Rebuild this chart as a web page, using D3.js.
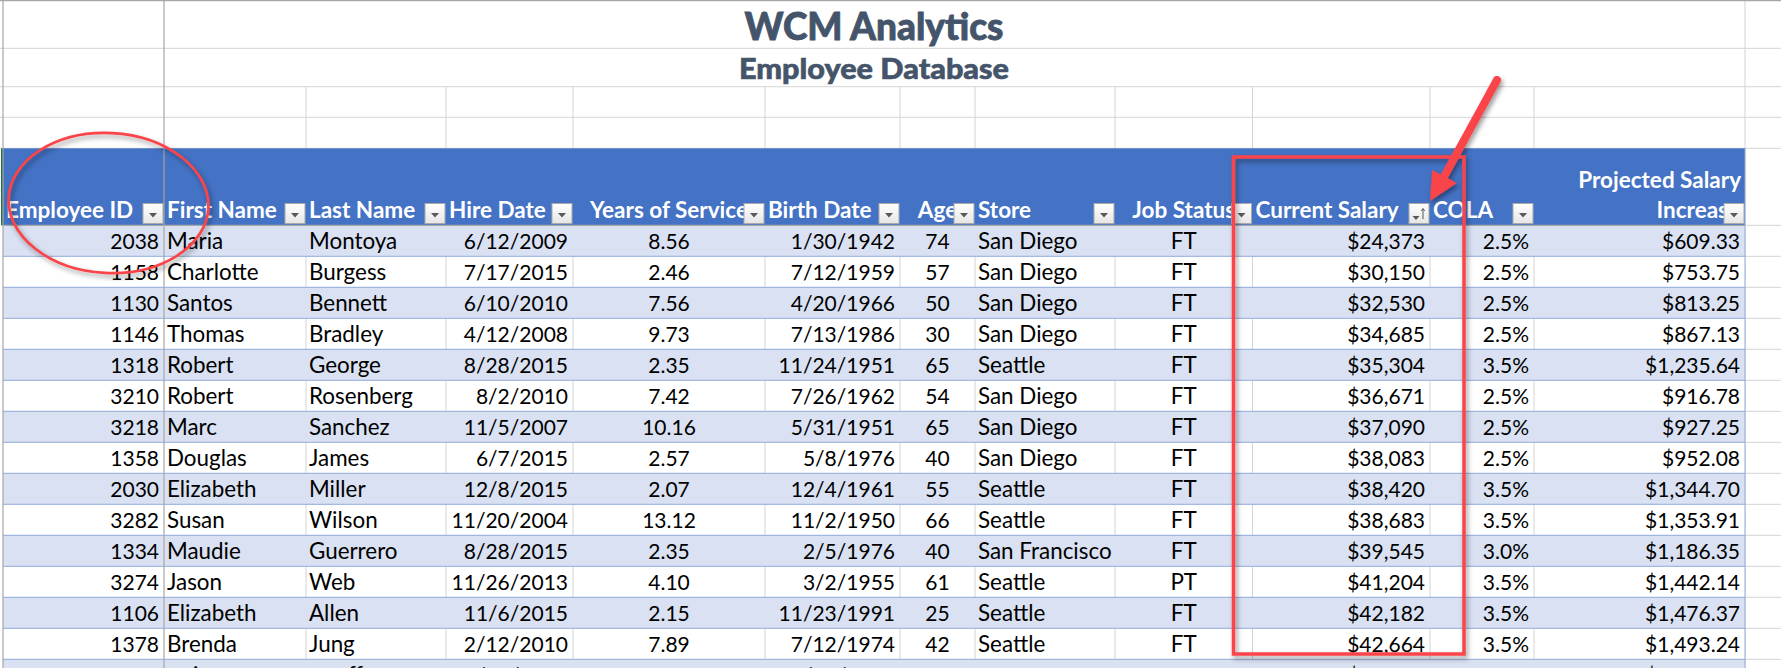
<!DOCTYPE html>
<html>
<head>
    <meta charset="utf-8">
    <title>WCM Analytics - Employee Database</title>
    <script src="https://d3js.org/d3.v7.min.js"></script>
    <style>
        html, body { margin: 0; padding: 0; background: #fff; overflow: hidden; }
        svg { display: block; }
    </style>
</head>

<body>
<div id="chart"></div>
<script type="text/javascript">

    let titleText = "WCM Analytics";
    let subtitleText = "Employee Database";
    let columnKeys = ["id", "first", "last", "hire", "years", "birth", "age", "store", "job", "salary", "cola", "raise"];

    let employeeIds = [2038, 1158, 1130, 1146, 1318, 3210, 3218, 1358, 2030, 3282, 1334, 3274, 1106, 1378];
    let firstNames = ["Maria", "Charlotte", "Santos", "Thomas", "Robert", "Robert", "Marc", "Douglas", "Elizabeth", "Susan", "Maudie", "Jason", "Elizabeth", "Brenda"];
    let lastNames = ["Montoya", "Burgess", "Bennett", "Bradley", "George", "Rosenberg", "Sanchez", "James", "Miller", "Wilson", "Guerrero", "Web", "Allen", "Jung"];
    let hireDates = ["6/12/2009", "7/17/2015", "6/10/2010", "4/12/2008", "8/28/2015", "8/2/2010", "11/5/2007", "6/7/2015", "12/8/2015", "11/20/2004", "8/28/2015", "11/26/2013", "11/6/2015", "2/12/2010"];
    let yearsOfService = [8.56, 2.46, 7.56, 9.73, 2.35, 7.42, 10.16, 2.57, 2.07, 13.12, 2.35, 4.10, 2.15, 7.89];
    let birthDates = ["1/30/1942", "7/12/1959", "4/20/1966", "7/13/1986", "11/24/1951", "7/26/1962", "5/31/1951", "5/8/1976", "12/4/1961", "11/2/1950", "2/5/1976", "3/2/1955", "11/23/1991", "7/12/1974"];
    let ages = [74, 57, 50, 30, 65, 54, 65, 40, 55, 66, 40, 61, 25, 42];
    let stores = ["San Diego", "San Diego", "San Diego", "San Diego", "Seattle", "San Diego", "San Diego", "San Diego", "Seattle", "Seattle", "San Francisco", "Seattle", "Seattle", "Seattle"];
    let jobStatus = ["FT", "FT", "FT", "FT", "FT", "FT", "FT", "FT", "FT", "FT", "FT", "PT", "FT", "FT"];
    let salaries = [24373, 30150, 32530, 34685, 35304, 36671, 37090, 38083, 38420, 38683, 39545, 41204, 42182, 42664];
    let colaRates = [0.025, 0.025, 0.025, 0.025, 0.035, 0.025, 0.025, 0.025, 0.035, 0.035, 0.03, 0.035, 0.035, 0.035];
    let raises = [609.33, 753.75, 813.25, 867.13, 1235.64, 916.78, 927.25, 952.08, 1344.70, 1353.91, 1186.35, 1442.14, 1476.37, 1493.24];

    let headerLabels = ["Employee ID", "First Name", "Last Name", "Hire Date", "Years of Service", "Birth Date", "Age", "Store", "Job Status", "Current Salary", "COLA", "Increase"];
    let headerExtra = "Projected Salary";

    // Ultima linha cortada: so o topo de alguns caracteres aparece
    let fs = "\u2007";
    let cutRow = {
        first: fs + fs + "i",
        last: fs + fs + fs + "ff",
        hire: fs + fs + "/" + fs + fs + "/" + fs + fs + fs + fs,
        birth: fs + fs + "/" + fs + fs + "/" + fs + fs + fs + fs,
        salary: "$" + fs + fs + "," + fs + fs + fs,
        cola: "%",
        raise: "$" + fs + "," + fs + fs + fs + "." + fs + fs
    };

    // Layout
    let w = 1781, h = 668;
    let colEdges = [3, 164, 306, 446, 573, 765, 900, 975, 1115, 1252.5, 1430, 1534, 1745];
    let headTop = 148.3, headBottom = 225.3, rowH = 31;
    let gridYs = [48.3, 86.7, 117.3, 148.3];

    let fmtSalary = d3.format("$,"), fmtCola = d3.format(".1%"), fmtRaise = d3.format("$,.2f"), fmtYears = d3.format(".2f");

    let rows = employeeIds.map(function(d, i) {
        return {
            id: d, first: firstNames[i], last: lastNames[i], hire: hireDates[i],
            years: fmtYears(yearsOfService[i]), birth: birthDates[i], age: ages[i],
            store: stores[i], job: jobStatus[i], salary: fmtSalary(salaries[i]),
            cola: fmtCola(colaRates[i]), raise: fmtRaise(raises[i])
        };
    });
    rows.push(cutRow);

    // Escalas
    let yScale = d3.scaleBand()
                   .domain(d3.range(rows.length))
                   .range([headBottom, headBottom + rows.length * rowH]);

    let colLeft = d3.scaleOrdinal().domain(columnKeys).range(colEdges.slice(0, -1));
    let colRight = d3.scaleOrdinal().domain(columnKeys).range(colEdges.slice(1));

    // Alinhamento de cada coluna
    let bodyAlign = {id: "end", first: "start", last: "start", hire: "end", years: "middle", birth: "end", age: "middle", store: "start", job: "middle", salary: "end", cola: "end", raise: "end"};
    let headAlign = {id: "start", first: "start", last: "start", hire: "start", years: "middle", birth: "start", age: "middle", store: "start", job: "middle", salary: "start", cola: "start", raise: "end"};

    // Colunas de letras saem um pouco maiores que as de numeros
    let textCols = ["first", "last", "store", "job"];

    function textX(key, anchor) {
        if (anchor === "start") return colLeft(key) + 3;
        if (anchor === "end") return colRight(key) - 5;
        return (colLeft(key) + colRight(key)) / 2;
    }

    let svg = d3.select("#chart")
            .append("svg")
                .attr("width", w)
                .attr("height", h);

    let defs = svg.append("defs");

    let shadow = defs.append("filter").attr("id", "shadow")
        .attr("x", "-10%").attr("y", "-10%").attr("width", "125%").attr("height", "125%");
    shadow.append("feDropShadow")
        .attr("dx", 2).attr("dy", 3).attr("stdDeviation", 2.5)
        .attr("flood-color", "#000").attr("flood-opacity", 0.4);

    let btnGrad = defs.append("linearGradient").attr("id", "btnGrad")
        .attr("x1", 0).attr("y1", 0).attr("x2", 0).attr("y2", 1);
    btnGrad.append("stop").attr("offset", "0%").attr("stop-color", "#ffffff");
    btnGrad.append("stop").attr("offset", "100%").attr("stop-color", "#e6e6e6");

    // Grade acima da tabela
    svg.append("rect").attr("width", w).attr("height", h).attr("fill", "#fff");

    svg.selectAll(".gridH")
        .data(gridYs)
        .enter()
        .append("line")
        .attr("x1", 0).attr("x2", w)
        .attr("y1", function(d){ return d; }).attr("y2", function(d){ return d; })
        .attr("stroke", "#d4d4d4").attr("stroke-width", 1);

    svg.selectAll(".gridV")
        .data(colEdges.slice(2, -1))
        .enter()
        .append("line")
        .attr("x1", function(d){ return d; }).attr("x2", function(d){ return d; })
        .attr("y1", gridYs[1]).attr("y2", headTop)
        .attr("stroke", "#d4d4d4").attr("stroke-width", 1);

    svg.append("line")
        .attr("x1", 1745).attr("x2", 1745).attr("y1", 0).attr("y2", h)
        .attr("stroke", "#d4d4d4").attr("stroke-width", 1);

    // Linhas claras a direita da tabela
    svg.selectAll(".gridRight")
        .data(d3.range(rows.length + 1))
        .enter()
        .append("line")
        .attr("x1", 1745).attr("x2", w)
        .attr("y1", function(d){ return headBottom + d * rowH; })
        .attr("y2", function(d){ return headBottom + d * rowH; })
        .attr("stroke", "#d4d4d4").attr("stroke-width", 1);

    // Titulos
    svg.append("text")
        .attr("x", 874).attr("y", 40)
        .attr("text-anchor", "middle")
        .attr("font-family", "Lato").attr("font-weight", 900).attr("font-size", "37px")
        .attr("textLength", 259).attr("lengthAdjust", "spacingAndGlyphs")
        .attr("fill", "#44546a").attr("stroke", "#44546a").attr("stroke-width", 0.8)
        .text(titleText);

    svg.append("text")
        .attr("x", 874).attr("y", 79)
        .attr("text-anchor", "middle")
        .attr("font-family", "Lato").attr("font-weight", 900).attr("font-size", "28px")
        .attr("textLength", 270).attr("lengthAdjust", "spacingAndGlyphs")
        .attr("fill", "#44546a").attr("stroke", "#44546a").attr("stroke-width", 0.6)
        .text(subtitleText);

    // Cabecalho
    svg.append("rect")
        .attr("x", colEdges[0]).attr("y", headTop)
        .attr("width", 1745 - colEdges[0]).attr("height", headBottom - headTop)
        .attr("fill", "#4472c4");

    svg.append("rect")
        .attr("x", 1).attr("y", headTop)
        .attr("width", 2).attr("height", headBottom - headTop)
        .attr("fill", "#217346");

    let headerG = svg.append("g")
        .attr("font-family", "Lato").attr("font-weight", 700).attr("font-size", "22.5px")
        .attr("fill", "#fff");

    headerG.selectAll("text")
        .data(columnKeys)
        .enter()
        .append("text")
        .attr("x", function(d){ return textX(d, headAlign[d]); })
        .attr("y", 218)
        .attr("text-anchor", function(d){ return headAlign[d]; })
        .text(function(d, i){ return headerLabels[i]; });

    headerG.append("text")
        .attr("x", 1741).attr("y", 188)
        .attr("text-anchor", "end")
        .text(headerExtra);

    // Botoes de filtro
    let btn = svg.selectAll(".btn")
        .data(columnKeys)
        .enter()
        .append("g")
        .attr("class", "btn")
        .attr("transform", function(d){ return "translate(" + (colRight(d) - 21.5) + ",203)"; });

    btn.append("rect")
        .attr("x", 0.5).attr("y", 0.5).attr("width", 20).attr("height", 20)
        .attr("fill", "url(#btnGrad)")
        .attr("stroke", "#a9a9a9");

    btn.append("path")
        .attr("d", function(d){ return d === "salary" ? "M4,13h7l-3.5,4z" : "M6.5,10h8l-4,4.5z"; })
        .attr("fill", "#595959");

    btn.filter(function(d){ return d === "salary"; })
        .append("path")
        .attr("d", "M14.5,6v10M12.8,8l1.7,-2.5l1.7,2.5")
        .attr("fill", "none").attr("stroke", "#595959").attr("stroke-width", 1);

    // Linhas da tabela
    let rowG = svg.selectAll(".row")
        .data(rows)
        .enter()
        .append("g")
        .attr("class", "row")
        .attr("transform", function(d, i){ return "translate(0," + yScale(i) + ")"; });

    rowG.append("rect")
        .attr("x", colEdges[0])
        .attr("width", 1745 - colEdges[0])
        .attr("height", yScale.bandwidth())
        .attr("fill", function(d, i){ return i % 2 === 0 ? "#d9e1f2" : "#fff"; });

    rowG.filter(function(d, i){ return i % 2 === 1; })
        .selectAll("line")
        .data(colEdges.slice(2, -1))
        .enter()
        .append("line")
        .attr("x1", function(d){ return d; }).attr("x2", function(d){ return d; })
        .attr("y1", 0).attr("y2", yScale.bandwidth())
        .attr("stroke", "#d4d4d4");

    rowG.selectAll("text")
        .data(function(d){
            return columnKeys.filter(function(k){ return d[k] !== undefined; })
                             .map(function(k){ return {key: k, value: d[k]}; });
        })
        .enter()
        .append("text")
        .attr("x", function(d){ return textX(d.key, bodyAlign[d.key]); })
        .attr("y", 23.5)
        .attr("text-anchor", function(d){ return bodyAlign[d.key]; })
        .attr("font-family", "Lato")
        .attr("font-size", function(d){ return textCols.indexOf(d.key) >= 0 ? "22.4px" : "21px"; })
        .attr("fill", "#000")
        .text(function(d){ return d.value; });

    svg.selectAll(".rowLine")
        .data(d3.range(1, rows.length))
        .enter()
        .append("line")
        .attr("x1", colEdges[0]).attr("x2", 1745)
        .attr("y1", function(d){ return yScale(d); }).attr("y2", function(d){ return yScale(d); })
        .attr("stroke", "#8ea9db").attr("stroke-width", 1);

    svg.append("line")
        .attr("x1", 1745).attr("x2", 1745).attr("y1", headTop).attr("y2", h)
        .attr("stroke", "#8ea9db");

    // Linhas fortes do congelamento de paineis
    let frozen = svg.append("g").attr("stroke", "#a6a6a6").attr("stroke-width", 1.2);
    frozen.append("line").attr("x1", 0).attr("x2", w).attr("y1", 0.6).attr("y2", 0.6);
    frozen.append("line").attr("x1", 3).attr("x2", 3).attr("y1", 0).attr("y2", h);
    frozen.append("line").attr("x1", 164).attr("x2", 164).attr("y1", 0).attr("y2", h);
    frozen.append("line").attr("x1", 3).attr("x2", 1745).attr("y1", headBottom).attr("y2", headBottom);

    // Anotacoes em vermelho
    let red = "#f9444a";
    let notes = svg.append("g").attr("filter", "url(#shadow)");

    notes.append("ellipse")
        .attr("cx", 108.5).attr("cy", 203)
        .attr("rx", 100).attr("ry", 70)
        .attr("transform", "rotate(3 108.5 203)")
        .attr("fill", "none").attr("stroke", red).attr("stroke-width", 2.8);

    notes.append("rect")
        .attr("x", 1233.5).attr("y", 157)
        .attr("width", 230.5).attr("height", 497)
        .attr("fill", "none").attr("stroke", red).attr("stroke-width", 3.5);

    notes.append("line")
        .attr("x1", 1497).attr("y1", 80).attr("x2", 1445).attr("y2", 175)
        .attr("stroke", red).attr("stroke-width", 8).attr("stroke-linecap", "round");

    notes.append("path")
        .attr("d", "M1430,201L1432,170L1457,183Z")
        .attr("fill", red);

</script>
</body>
</html>
